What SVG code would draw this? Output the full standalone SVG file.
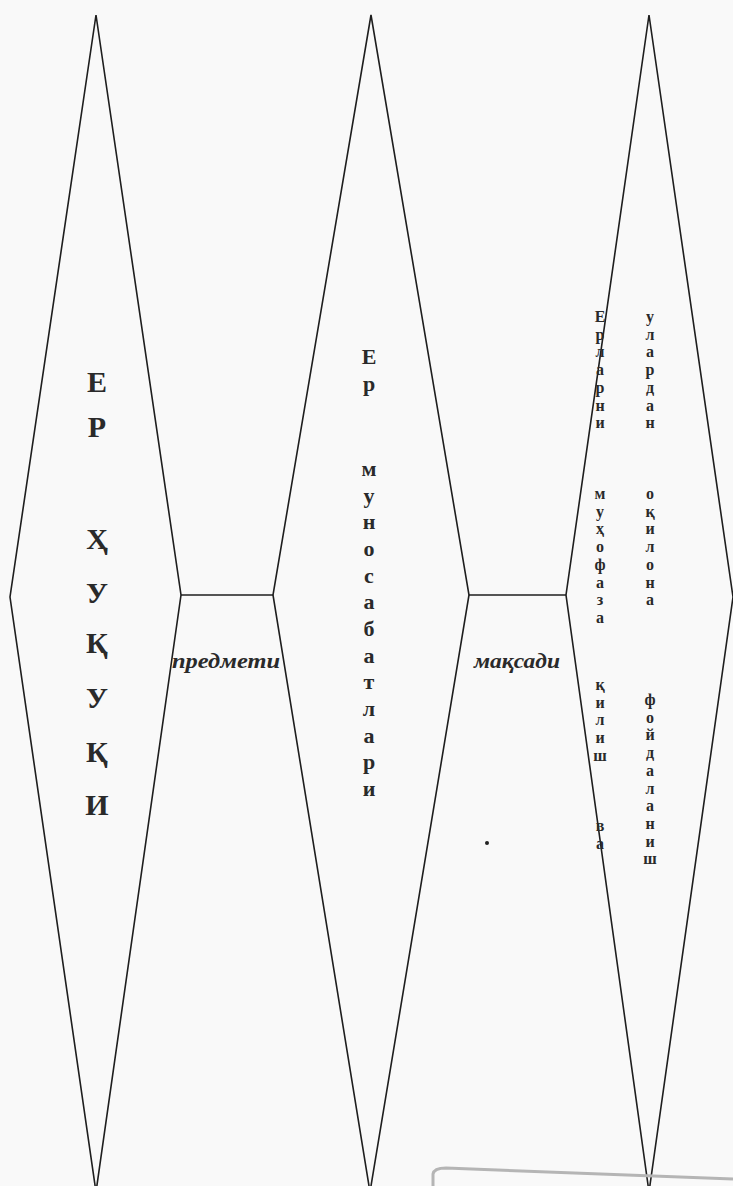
<svg xmlns="http://www.w3.org/2000/svg" width="733" height="1186" viewBox="0 0 733 1186">
<style>
.shape{fill:none;stroke:#1e1e1e;stroke-width:1.6;stroke-linejoin:miter}
.conn{stroke:#1e1e1e;stroke-width:1.6}
.big{font-family:"Liberation Serif",serif;font-weight:bold;font-size:30px;fill:#2a2a2a;text-anchor:middle}
.mid{font-family:"Liberation Serif",serif;font-weight:bold;font-size:22px;fill:#2a2a2a;text-anchor:middle}
.sm{font-family:"Liberation Serif",serif;font-weight:bold;font-size:16px;fill:#2a2a2a;text-anchor:middle}
.lbl{font-family:"Liberation Serif",serif;font-weight:bold;font-style:italic;font-size:20px;fill:#2a2a2a}
</style>
<rect width="733" height="1186" fill="#f9f9f9"/>
<g id="connectors">
<line class="conn" x1="181" y1="595" x2="273" y2="595"/>
<line class="conn" x1="469" y1="595" x2="566" y2="595"/>
<text class="lbl" x="172" y="668" textLength="108" lengthAdjust="spacingAndGlyphs">предмети</text>
<text class="lbl" x="474" y="668" textLength="86" lengthAdjust="spacingAndGlyphs">мақсади</text>
</g>
<g id="node1">
<polygon class="shape" points="96,15 181,595 96,1192 10,597"/>
<text class="big" x="97" y="392">Е</text>
<text class="big" x="97" y="437">Р</text>
<text class="big" x="97" y="549">Ҳ</text>
<text class="big" x="97" y="603">У</text>
<text class="big" x="97" y="653">Қ</text>
<text class="big" x="97" y="708">У</text>
<text class="big" x="97" y="762">Қ</text>
<text class="big" x="97" y="815">И</text>
</g>
<g id="node2">
<polygon class="shape" points="371,15 469,595 370,1192 273,595"/>
<text class="mid" x="369" y="364">Е</text>
<text class="mid" x="369" y="391">р</text>
<text class="mid" x="369" y="476">м</text>
<text class="mid" x="369" y="503">у</text>
<text class="mid" x="369" y="529">н</text>
<text class="mid" x="369" y="556">о</text>
<text class="mid" x="369" y="583">с</text>
<text class="mid" x="369" y="609">а</text>
<text class="mid" x="369" y="636">б</text>
<text class="mid" x="369" y="663">а</text>
<text class="mid" x="369" y="689">т</text>
<text class="mid" x="369" y="716">л</text>
<text class="mid" x="369" y="743">а</text>
<text class="mid" x="369" y="769">р</text>
<text class="mid" x="369" y="796">и</text>
<circle cx="487" cy="843" r="2" fill="#222"/>
</g>
<g id="node3">
<polygon class="shape" points="649,15 733,597 649,1192 566,595"/>
<text class="sm" x="600" y="322">Е</text>
<text class="sm" x="600" y="339.7">р</text>
<text class="sm" x="600" y="357.4">л</text>
<text class="sm" x="600" y="375.1">а</text>
<text class="sm" x="600" y="392.8">р</text>
<text class="sm" x="600" y="410.5">н</text>
<text class="sm" x="600" y="428.2">и</text>
<text class="sm" x="600" y="499">м</text>
<text class="sm" x="600" y="516.7">у</text>
<text class="sm" x="600" y="534.4">ҳ</text>
<text class="sm" x="600" y="552.1">о</text>
<text class="sm" x="600" y="569.8">ф</text>
<text class="sm" x="600" y="587.5">а</text>
<text class="sm" x="600" y="605.2">з</text>
<text class="sm" x="600" y="622.9">а</text>
<text class="sm" x="600" y="690">қ</text>
<text class="sm" x="600" y="707.7">и</text>
<text class="sm" x="600" y="725.4">л</text>
<text class="sm" x="600" y="743.1">и</text>
<text class="sm" x="600" y="760.8">ш</text>
<text class="sm" x="600" y="831">в</text>
<text class="sm" x="600" y="848.7">а</text>
<text class="sm" x="650" y="322">у</text>
<text class="sm" x="650" y="339.7">л</text>
<text class="sm" x="650" y="357.4">а</text>
<text class="sm" x="650" y="375.1">р</text>
<text class="sm" x="650" y="392.8">д</text>
<text class="sm" x="650" y="410.5">а</text>
<text class="sm" x="650" y="428.2">н</text>
<text class="sm" x="650" y="499">о</text>
<text class="sm" x="650" y="516.7">қ</text>
<text class="sm" x="650" y="534.4">и</text>
<text class="sm" x="650" y="552.1">л</text>
<text class="sm" x="650" y="569.8">о</text>
<text class="sm" x="650" y="587.5">н</text>
<text class="sm" x="650" y="605.2">а</text>
<text class="sm" x="650" y="705">ф</text>
<text class="sm" x="650" y="722.7">о</text>
<text class="sm" x="650" y="740.4">й</text>
<text class="sm" x="650" y="758.1">д</text>
<text class="sm" x="650" y="775.8">а</text>
<text class="sm" x="650" y="793.5">л</text>
<text class="sm" x="650" y="811.2">а</text>
<text class="sm" x="650" y="828.9">н</text>
<text class="sm" x="650" y="846.6">и</text>
<text class="sm" x="650" y="864.3">ш</text>
</g>
<path d="M433,1186 L433,1174 Q434,1168 446,1168 L733,1179" fill="none" stroke="#b5b5b5" stroke-width="3"/>
</svg>
